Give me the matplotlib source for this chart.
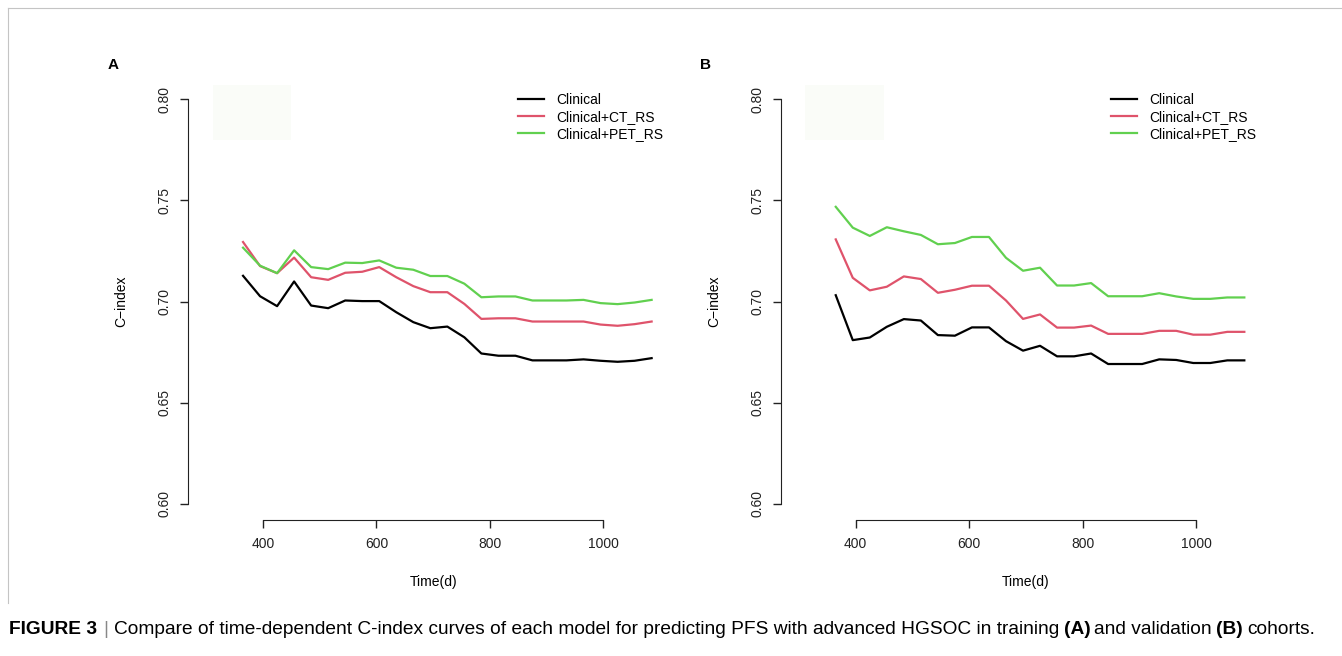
import matplotlib
matplotlib.use("Agg")
import matplotlib.pyplot as plt
from matplotlib.lines import Line2D
from matplotlib.patches import Rectangle

plt.rcParams['font.family'] = ['Liberation Sans', 'DejaVu Sans']

# follow-up time points (days)
time_days = [365, 395, 425, 455, 485, 515, 545, 575, 605, 635, 665, 695, 725,
             755, 785, 815, 845, 875, 905, 935, 965, 995, 1025, 1055, 1085]

# panel A - training cohort
train_clinical = [0.7127, 0.7026, 0.6977, 0.7099, 0.6980, 0.6967, 0.7005, 0.7002, 0.7002,
                  0.6947, 0.6898, 0.6868, 0.6876, 0.6823, 0.6743, 0.6732, 0.6732, 0.6709,
                  0.6709, 0.6709, 0.6714, 0.6707, 0.6702, 0.6707, 0.6720]
train_ct = [0.7294, 0.7175, 0.7140, 0.7217, 0.7120, 0.7107, 0.7142, 0.7147, 0.7170,
            0.7120, 0.7076, 0.7046, 0.7046, 0.6988, 0.6914, 0.6917, 0.6917, 0.6901,
            0.6901, 0.6901, 0.6901, 0.6886, 0.6880, 0.6888, 0.6901]
train_pet = [0.7266, 0.7177, 0.7140, 0.7253, 0.7170, 0.7160, 0.7192, 0.7190, 0.7203,
             0.7167, 0.7157, 0.7126, 0.7126, 0.7088, 0.7021, 0.7025, 0.7025, 0.7005,
             0.7005, 0.7005, 0.7008, 0.6992, 0.6987, 0.6995, 0.7008]

# panel B - validation cohort
valid_clinical = [0.7031, 0.6809, 0.6822, 0.6875, 0.6913, 0.6906, 0.6834, 0.6831, 0.6872,
                  0.6872, 0.6804, 0.6757, 0.6781, 0.6729, 0.6729, 0.6743, 0.6691, 0.6691,
                  0.6691, 0.6714, 0.6711, 0.6696, 0.6696, 0.6709, 0.6709]
valid_ct = [0.7307, 0.7117, 0.7055, 0.7073, 0.7124, 0.7111, 0.7043, 0.7058, 0.7078,
            0.7078, 0.7005, 0.6914, 0.6936, 0.6871, 0.6871, 0.6881, 0.6840, 0.6840,
            0.6840, 0.6855, 0.6855, 0.6836, 0.6836, 0.6850, 0.6850]
valid_pet = [0.7468, 0.7365, 0.7324, 0.7367, 0.7347, 0.7329, 0.7283, 0.7289, 0.7319,
             0.7319, 0.7216, 0.7152, 0.7167, 0.7079, 0.7079, 0.7091, 0.7026, 0.7026,
             0.7026, 0.7041, 0.7025, 0.7013, 0.7013, 0.7020, 0.7020]

model_names = ['Clinical', 'Clinical+CT_RS', 'Clinical+PET_RS']
model_colors = ['black', '#DF536B', '#61D04F']
x_ticks = [400, 600, 800, 1000]
y_ticks = [0.60, 0.65, 0.70, 0.75, 0.80]

W, H = 1342, 656
fig = plt.figure(figsize=(W / 100, H / 100), dpi=100)
fig.patch.set_facecolor('white')


def draw_panel(left_px, series, letter):
    ax = fig.add_axes([left_px / W, 136 / H, 490.3 / W, 437 / H])
    for values, color, name in zip(series, model_colors, model_names):
        ax.plot(time_days, values, color=color, lw=1.6, label=name)

    ax.set_xlim(268, 1132)
    ax.set_ylim(0.592, 0.808)

    # faint box left over in the original image
    ax.add_patch(Rectangle((0.05, 0.87), 0.16, 0.125, transform=ax.transAxes,
                           facecolor='#fafcf8', edgecolor='none', zorder=0))

    for side in ['top', 'right']:
        ax.spines[side].set_visible(False)
    ax.spines['left'].set_bounds(0.60, 0.80)
    ax.spines['bottom'].set_bounds(400, 1000)
    ax.spines['left'].set_color('#222222')
    ax.spines['bottom'].set_color('#222222')

    ax.set_xticks(x_ticks)
    ax.set_xticklabels([str(t) for t in x_ticks])
    ax.set_yticks(y_ticks)
    ax.set_yticklabels(['%.2f' % t for t in y_ticks], rotation=90, va='center')
    ax.tick_params(length=6, width=1, labelsize=10, pad=6, colors='#222222')

    ax.set_xlabel('Time(d)', fontsize=10)
    ax.set_ylabel('C\u2212index', fontsize=10)
    ax.xaxis.set_label_coords(0.5, -0.126)
    ax.yaxis.set_label_coords(-0.122, 0.5)

    ax.legend(loc='upper left', bbox_to_anchor=(0.673, 0.977), frameon=False,
              fontsize=10, handlelength=1.9, handletextpad=0.85, labelspacing=0.2,
              borderpad=0, borderaxespad=0)

    fig.text((left_px - 75) / W, 1 - 65 / H, letter, fontsize=11, fontweight='bold',
             ha='center', va='center')
    return ax


draw_panel(188, [train_clinical, train_ct, train_pet], 'A')
draw_panel(780.7, [valid_clinical, valid_ct, valid_pet], 'B')

# thin frame around the figure panel
frame = '#c4c4c4'
fig.add_artist(Line2D([8 / W, 1], [1 - 8 / H, 1 - 8 / H], transform=fig.transFigure,
                      color=frame, lw=0.8))
fig.add_artist(Line2D([8 / W, 8 / W], [1 - 8 / H, 1 - 603 / H], transform=fig.transFigure,
                      color=frame, lw=0.8))

# caption, written piece by piece so bold parts can be mixed in
caption = [('FIGURE 3', 'bold', 'black'),
           ('|', 'normal', '#888888'),
           ('Compare of time-dependent C-index curves of each model for predicting PFS '
            'with advanced HGSOC in training', 'normal', 'black'),
           ('(A)', 'bold', 'black'),
           ('and validation', 'normal', 'black'),
           ('(B)', 'bold', 'black'),
           ('cohorts.', 'normal', 'black')]


def put_caption(size, draw=True):
    renderer = fig.canvas.get_renderer()
    x = 8.6
    made = []
    for i, (s, weight, color) in enumerate(caption):
        t = fig.text(x / W, 1 - 630 / H, s, fontsize=size, fontweight=weight,
                     color=color, ha='left', va='center')
        made.append(t)
        bb = t.get_window_extent(renderer)
        gap = size * 0.30 if i > 1 else size * 0.45
        x = bb.x1 + gap
    if not draw:
        for t in made:
            t.remove()
    return x - gap


size = 12
end = put_caption(size, draw=False)
size = size * (1320 - 8.6) / (end - 8.6)
put_caption(size)

fig.savefig('out.png', dpi=100)
